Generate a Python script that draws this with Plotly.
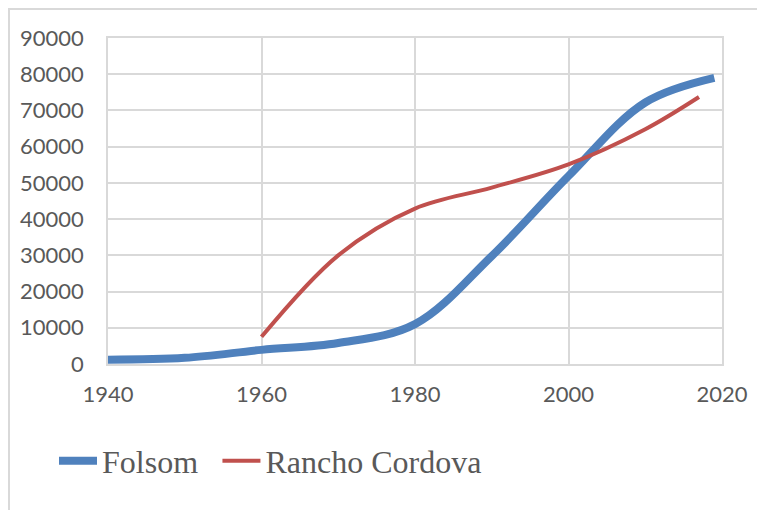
import plotly.graph_objects as go

folsom_years = [1940, 1950, 1960, 1970, 1980, 1990, 2000, 2010, 2019]
folsom_pop = [1200, 1700, 3900, 5800, 11000, 29800, 51900, 72200, 79000]

rancho_years = [1960, 1970, 1980, 1990, 2000, 2010, 2017]
rancho_pop = [7500, 30000, 42900, 48700, 55100, 64800, 73700]

x_ticks = [1940, 1960, 1980, 2000, 2020]
y_ticks = list(range(0, 90001, 10000))

W, H = 765, 510
OFF = 8  # page body margin
# target plot area in page pixels: left 108, right 722, top 38, bottom 364
L = 108 - OFF
T = 38 - OFF
pw = 722 - 108
ph = 364 - 38
R = W - L - pw
B = H - T - ph

def px2paper_x(px):
    return (px - OFF - L) / pw

def px2paper_y(py):
    return (T + ph - (py - OFF)) / ph

fig = go.Figure()
fig.add_trace(go.Scatter(x=folsom_years, y=folsom_pop, name="Folsom\u00a0\u2009", mode="lines",
                         line=dict(color="#4F81BD", width=8, shape="spline", smoothing=1.0)))
fig.add_trace(go.Scatter(x=rancho_years, y=rancho_pop, name="Rancho Cordova", mode="lines",
                         line=dict(color="#C0504D", width=4, shape="spline", smoothing=1.0)))

tick_font = dict(family="Lato, 'Open Sans', sans-serif", size=22, color="#595959")
grid = "#D9D9D9"

fig.update_layout(
    width=W, height=H,
    margin=dict(l=L, r=R, t=T, b=B),
    paper_bgcolor="white", plot_bgcolor="white",
    showlegend=True,
    legend=dict(orientation="h", x=px2paper_x(54), xanchor="left",
                y=px2paper_y(461), yanchor="middle", itemwidth=38,
                font=dict(family="'Liberation Serif', 'DejaVu Serif', serif", size=32, color="#595959"),
                bgcolor="rgba(0,0,0,0)"),
    xaxis=dict(range=[1940, 2020], tickvals=x_ticks, ticktext=[str(v) for v in x_ticks],
               showgrid=True, gridcolor=grid, gridwidth=1.5,
               showline=True, linecolor=grid, linewidth=1.5, mirror=True,
               zeroline=False, ticks="", tickfont=tick_font, ticklabelstandoff=10),
    yaxis=dict(range=[0, 90000], tickvals=y_ticks, ticktext=[str(v) for v in y_ticks],
               showgrid=True, gridcolor=grid, gridwidth=1.5,
               showline=True, linecolor=grid, linewidth=1.5, mirror=True,
               zeroline=False, ticks="", tickfont=tick_font, ticklabelstandoff=18),
    shapes=[dict(type="rect", xref="paper", yref="paper",
                 x0=px2paper_x(9), x1=px2paper_x(820), y0=px2paper_y(580), y1=px2paper_y(9),
                 line=dict(color="#D9D9D9", width=2), layer="below")],
)

fig.write_html("out.html")
